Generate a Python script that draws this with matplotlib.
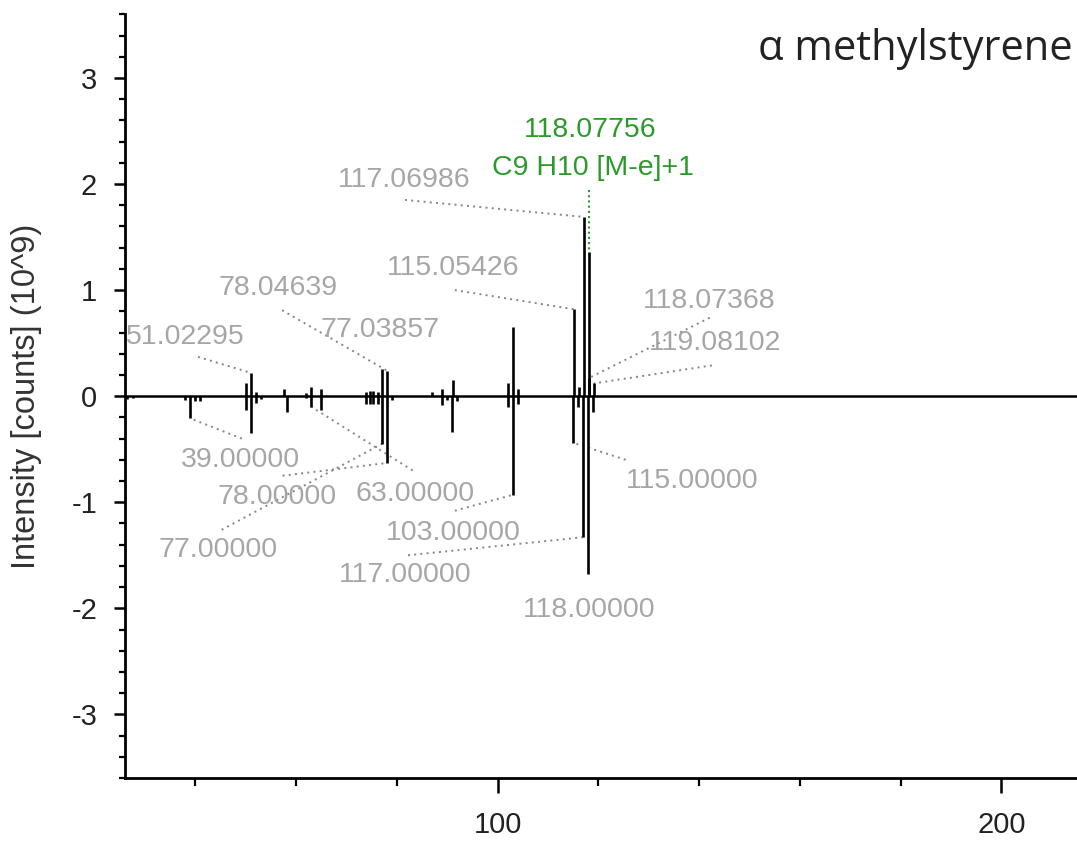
import numpy as np
import matplotlib
matplotlib.use('Agg')
import matplotlib.pyplot as plt
from matplotlib.ticker import MultipleLocator, FixedLocator

plt.rcParams['font.family'] = ['Liberation Sans', 'DejaVu Sans']
plt.rcParams['axes.unicode_minus'] = False

# measured spectrum (up), intensity in 10^9 counts
mz_pos = [50.0, 51.02, 52.0, 57.5, 62.0, 63.0, 65.0, 73.9, 74.6, 75.3, 76.2,
          77.04, 78.05, 87.0, 89.0, 91.05, 102.0, 103.05, 104.05, 115.05,
          116.06, 117.07, 118.07, 118.08, 119.08]
int_pos = [0.12, 0.22, 0.04, 0.07, 0.03, 0.09, 0.07, 0.04, 0.05, 0.05, 0.04,
           0.26, 0.24, 0.04, 0.07, 0.15, 0.12, 0.65, 0.07, 0.82,
           0.09, 1.69, 0.17, 1.36, 0.12]

# library spectrum (down)
mz_neg = [26.5, 27.6, 38.0, 39.0, 40.0, 41.0, 50.0, 51.0, 52.0, 53.0, 58.1,
          62.0, 63.0, 65.0, 73.9, 74.6, 75.3, 76.2, 77.0, 78.0, 79.0, 89.0,
          90.0, 91.0, 92.0, 102.0, 103.0, 104.0, 115.0, 116.0, 117.0, 118.0, 119.0]
int_neg = [-0.03, -0.02, -0.04, -0.21, -0.05, -0.05, -0.13, -0.35, -0.06, -0.03, -0.15,
           -0.02, -0.10, -0.13, -0.07, -0.07, -0.07, -0.07, -0.45, -0.63, -0.04, -0.08,
           -0.04, -0.34, -0.05, -0.10, -0.93, -0.07, -0.44, -0.10, -1.33, -1.68, -0.15]

# gray peak labels: text, peak m/z it points to, text position, leader start
pos_labels = ['117.06986', '115.05426', '78.04639', '51.02295', '118.07368', '119.08102', '77.03857']
pos_label_peaks = [117.07, 115.05, 78.05, 51.02, 118.07, 119.08, None]
pos_label_xy = [(81.4, 2.04), (91.1, 1.21), (56.4, 1.02), (37.9, 0.56),
                (141.9, 0.90), (143.1, 0.50), (76.6, 0.62)]
pos_leader_xy = [(81.6, 1.85), (91.5, 1.00), (57.2, 0.81), (40.5, 0.37),
                 (142.1, 0.74), (142.5, 0.29), None]

neg_labels = ['39.00000', '63.00000', '78.00000', '77.00000', '103.00000',
              '117.00000', '118.00000', '115.00000']
neg_label_peaks = [39.0, 63.0, 78.0, 77.0, 103.0, 117.0, None, 115.0]
neg_label_xy = [(49.0, -0.60), (83.5, -0.92), (56.2, -0.95), (44.5, -1.45),
                (91.1, -1.29), (81.6, -1.69), (118.1, -2.02), (138.7, -0.80)]
neg_leader_xy = [(49.2, -0.40), (83.1, -0.70), (57.3, -0.75), (45.2, -1.26),
                 (91.5, -1.08), (82.2, -1.50), None, (125.4, -0.60)]

# identified peak (green)
id_mz = 118.08
id_text = ['118.07756', 'C9 H10 [M-e]+1']
id_text_xy = [(118.3, 2.51), (118.9, 2.15)]
id_leader_top = 1.94

label_gray = '#a6a6a6'
leader_gray = '#858585'
green = '#2a9a2a'

fig = plt.figure(figsize=(10.77, 8.42), dpi=100)
ax = fig.add_axes([0.116, 0.076, 0.884, 0.907])

def peak_height(mz, mzs, ints):
    i = int(np.argmin(np.abs(np.array(mzs) - mz)))
    return ints[i]

# leaders
for peak, start in zip(pos_label_peaks, pos_leader_xy):
    if peak is None:
        continue
    h = peak_height(peak, mz_pos, int_pos)
    ax.plot([start[0], peak], [start[1], h], ls=(0, (1, 2.2)), color=leader_gray, lw=1.4, zorder=1)
for peak, start in zip(neg_label_peaks, neg_leader_xy):
    if peak is None:
        continue
    h = peak_height(peak, mz_neg, int_neg)
    ax.plot([start[0], peak], [start[1], h], ls=(0, (1, 2.2)), color=leader_gray, lw=1.4, zorder=1)
h_id = peak_height(id_mz, mz_pos, int_pos)
ax.plot([id_mz, id_mz], [id_leader_top, h_id], ls=(0, (1, 1.5)), color=green, lw=1.5, zorder=1)

# spectra
ax.vlines(mz_pos, 0, int_pos, colors='black', lw=1.9, zorder=2)
ax.vlines(mz_neg, 0, int_neg, colors='black', lw=1.9, zorder=2)
ax.axhline(0, color='black', lw=1.8, zorder=3)

for t, (x, y) in zip(pos_labels + neg_labels, pos_label_xy + neg_label_xy):
    ax.text(x, y, t, color=label_gray, fontsize=20.5, ha='center', va='center', zorder=4)
for t, (x, y) in zip(id_text, id_text_xy):
    ax.text(x, y, t, color=green, fontsize=20.5, ha='center', va='center', zorder=4)

ax.set_xlim(26, 215)
ax.set_ylim(-3.6, 3.6)
ax.xaxis.set_major_locator(FixedLocator([100, 200]))
ax.xaxis.set_minor_locator(MultipleLocator(20))
ax.yaxis.set_major_locator(MultipleLocator(1))
ax.yaxis.set_minor_locator(MultipleLocator(0.2))

for s in ['top', 'right']:
    ax.spines[s].set_visible(False)
for s in ['left', 'bottom']:
    ax.spines[s].set_linewidth(2.0)

ax.tick_params(axis='y', which='major', length=8, width=1.8, pad=12, labelsize=21, labelcolor='#222222')
ax.tick_params(axis='y', which='minor', length=4.5, width=1.6)
ax.tick_params(axis='x', which='major', length=11, width=1.8, pad=13, labelsize=21, labelcolor='#222222')
ax.tick_params(axis='x', which='minor', length=6, width=1.6)

ax.set_ylabel('Intensity [counts] (10^9)', fontsize=23.5, color='#333333')
ax.yaxis.set_label_coords(-0.087, 0.5)

fig.text(0.996, 0.929, 'α methylstyrene', fontsize=30, family=['Open Sans', 'DejaVu Sans'],
         color='#222222', ha='right', va='baseline')

fig.savefig('out.png', dpi=100)
